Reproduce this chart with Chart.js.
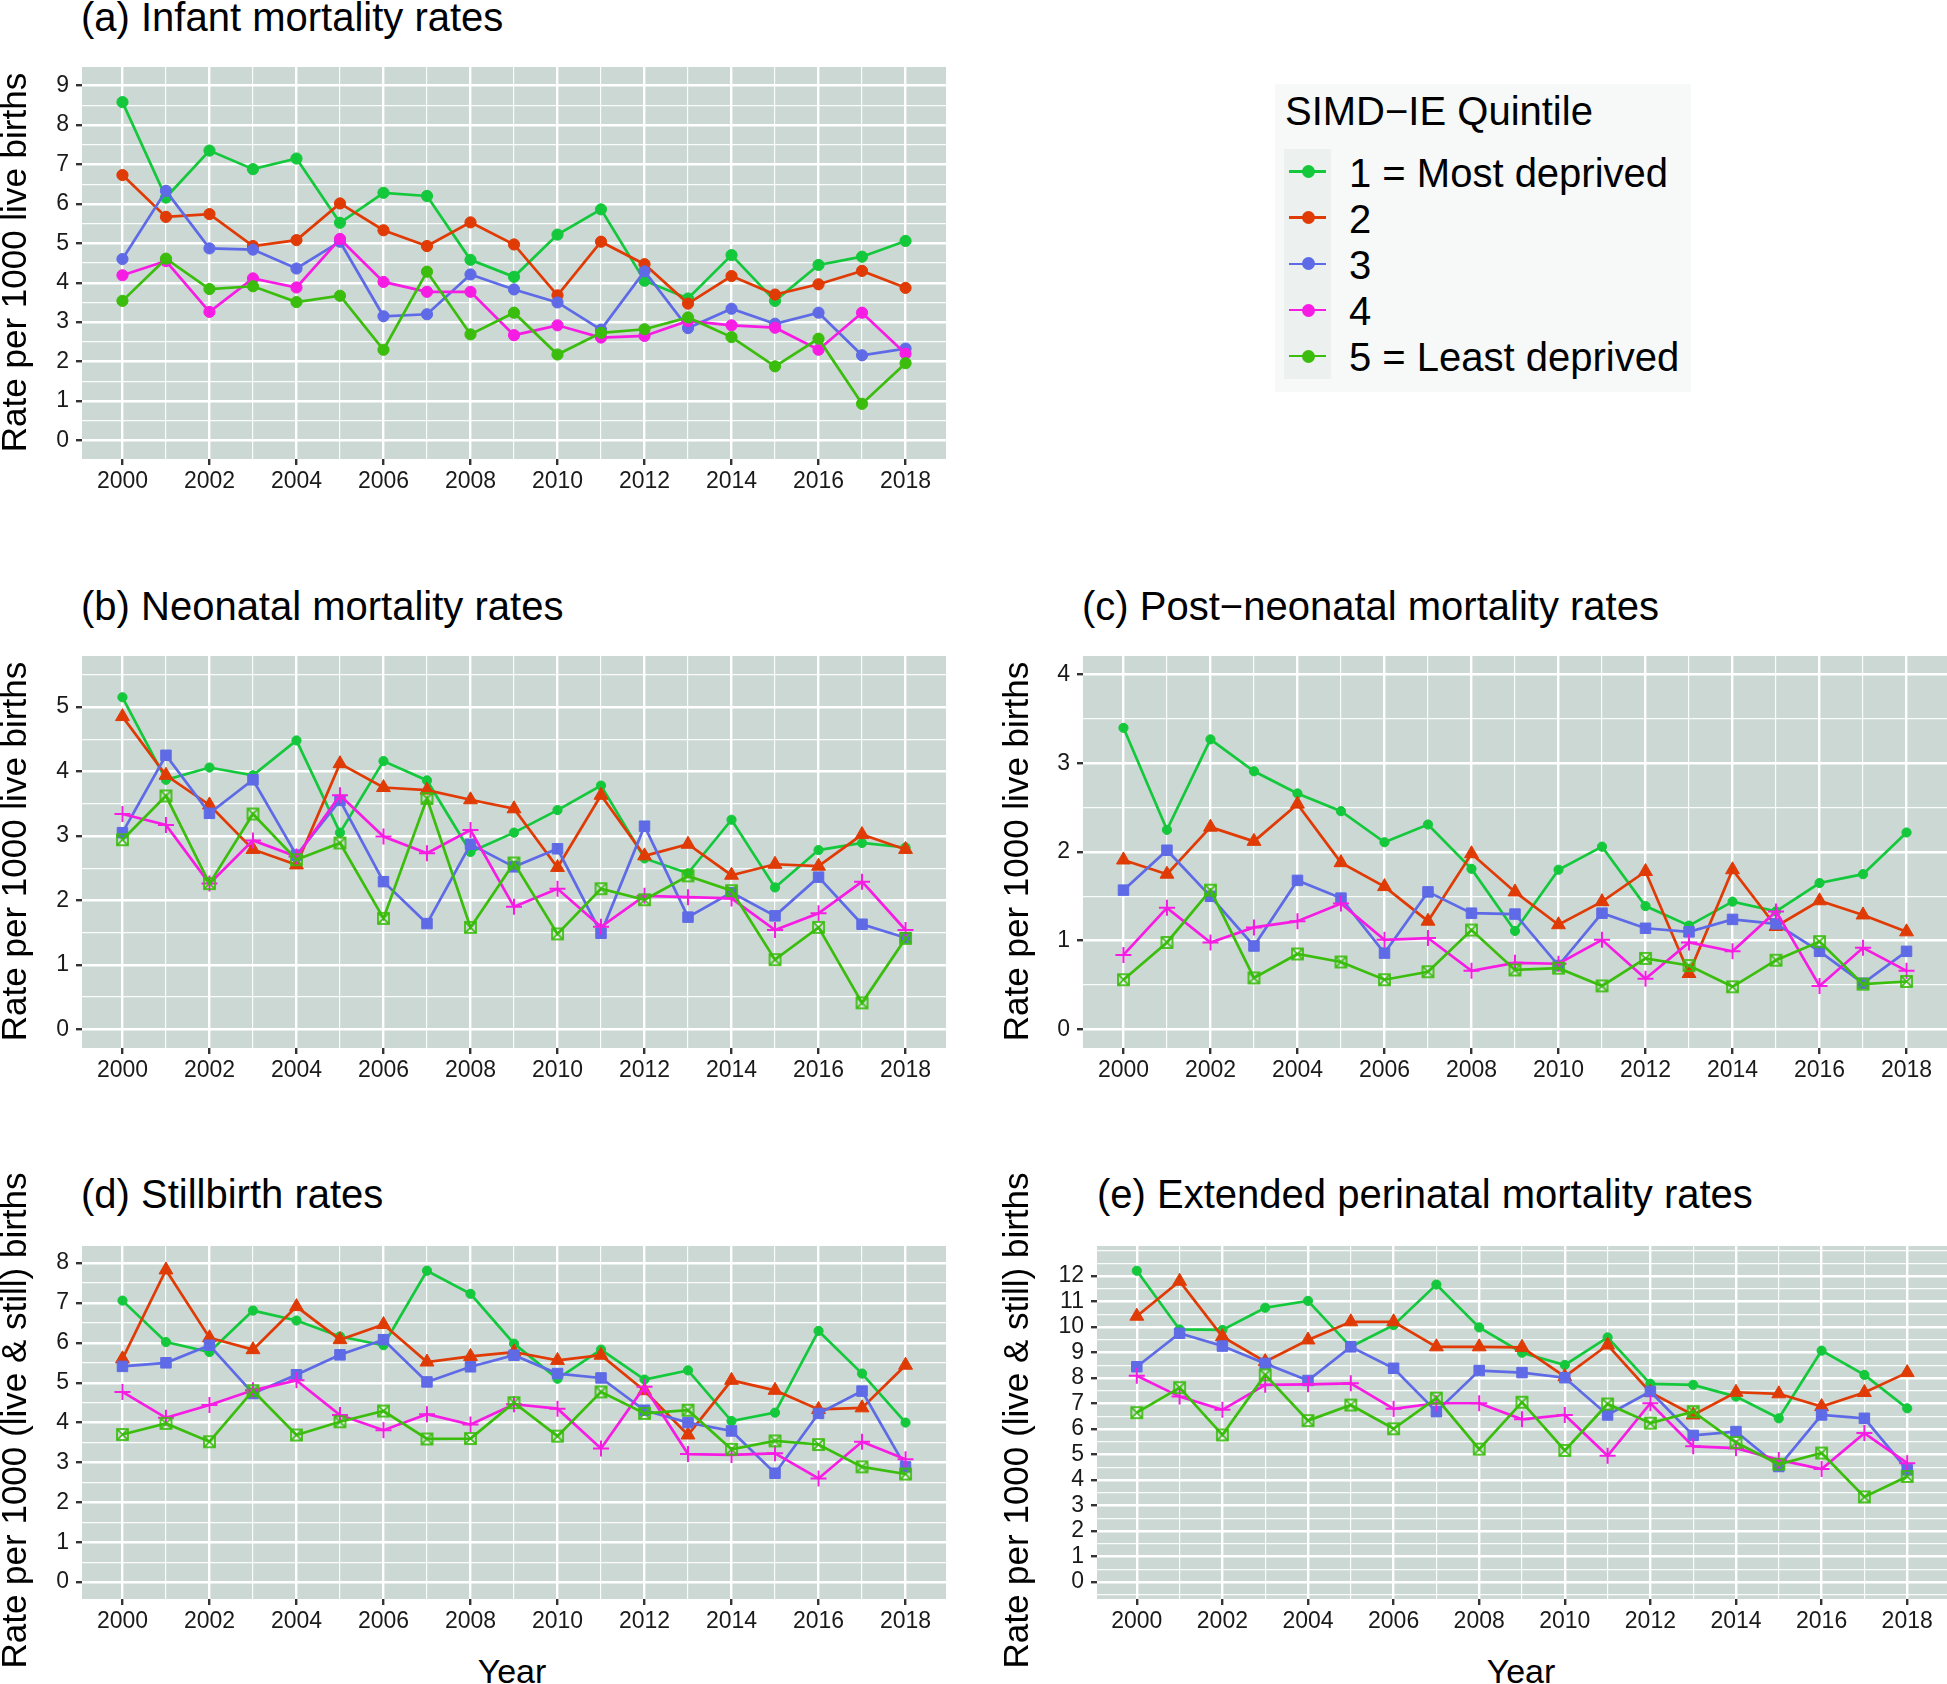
<!DOCTYPE html>
<html><head><meta charset="utf-8">
<script src="https://cdn.jsdelivr.net/npm/chart.js@4.4.1/dist/chart.umd.min.js"></script>
<style>
html,body{margin:0;padding:0;background:#fff;}
body{width:1947px;height:1684px;position:relative;overflow:hidden;font-family:"Liberation Sans",Arial,Helvetica,sans-serif;color:#000;}
canvas{position:absolute;}
.t{position:absolute;white-space:nowrap;color:#000;}
.rot{position:absolute;white-space:nowrap;text-align:center;transform:rotate(-90deg);transform-origin:50% 50%;}
</style></head><body>
<canvas id="pa"></canvas><canvas id="pb"></canvas><canvas id="pc"></canvas><canvas id="pd"></canvas><canvas id="pe"></canvas>
<div id="texts"></div>
<script>
// ---------------- DATA ----------------
const years = [2000,2001,2002,2003,2004,2005,2006,2007,2008,2009,2010,2011,2012,2013,2014,2015,2016,2017,2018];
const xTickYears = [2000,2002,2004,2006,2008,2010,2012,2014,2016,2018];
const quintileLabels = ['1 = Most deprived','2','3','4','5 = Least deprived'];

// (a) Infant mortality rates
const infantQ1 = [8.58,6.16,7.35,6.88,7.15,5.52,6.28,6.20,4.58,4.15,5.22,5.86,4.05,3.60,4.70,3.54,4.45,4.66,5.06];
const infantQ2 = [6.73,5.67,5.74,4.93,5.08,6.01,5.33,4.93,5.53,4.97,3.68,5.04,4.47,3.47,4.17,3.70,3.96,4.30,3.87];
const infantQ3 = [4.60,6.33,4.87,4.84,4.36,5.04,3.15,3.20,4.21,3.83,3.50,2.81,4.29,2.85,3.34,2.96,3.24,2.16,2.33];
const infantQ4 = [4.19,4.55,3.26,4.11,3.88,5.11,4.02,3.77,3.77,2.67,2.92,2.61,2.65,3.03,2.92,2.86,2.30,3.24,2.20];
const infantQ5 = [3.54,4.61,3.84,3.91,3.51,3.67,2.30,4.28,2.69,3.24,2.18,2.73,2.82,3.12,2.62,1.88,2.58,0.93,1.96];

// (b) Neonatal mortality rates
const neonatalQ1 = [5.15,3.87,4.06,3.94,4.48,3.05,4.16,3.86,2.75,3.05,3.40,3.78,2.65,2.42,3.25,2.20,2.78,2.89,2.82];
const neonatalQ2 = [4.85,3.94,3.48,2.79,2.55,4.12,3.75,3.71,3.56,3.42,2.51,3.63,2.69,2.87,2.39,2.56,2.53,3.02,2.79];
const neonatalQ3 = [3.05,4.25,3.35,3.87,2.70,3.55,2.29,1.64,2.87,2.52,2.80,1.49,3.15,1.74,2.12,1.76,2.36,1.63,1.42];
const neonatalQ4 = [3.34,3.17,2.26,2.93,2.68,3.63,2.99,2.73,3.09,1.90,2.18,1.59,2.07,2.05,2.03,1.54,1.80,2.29,1.54];
const neonatalQ5 = [2.94,3.62,2.26,3.34,2.63,2.89,1.72,3.58,1.58,2.58,1.48,2.18,2.01,2.38,2.15,1.08,1.58,0.41,1.41];

// (c) Post-neonatal mortality rates
const postneonatalQ1 = [3.40,2.25,3.27,2.91,2.66,2.46,2.11,2.31,1.81,1.11,1.80,2.06,1.39,1.17,1.44,1.33,1.65,1.75,2.22];
const postneonatalQ2 = [1.91,1.75,2.28,2.12,2.54,1.88,1.61,1.22,1.98,1.55,1.18,1.44,1.78,0.63,1.80,1.16,1.45,1.29,1.10];
const postneonatalQ3 = [1.57,2.02,1.50,0.94,1.68,1.48,0.86,1.55,1.31,1.30,0.72,1.31,1.14,1.10,1.24,1.19,0.88,0.52,0.88];
const postneonatalQ4 = [0.84,1.37,0.98,1.15,1.22,1.42,1.01,1.03,0.66,0.75,0.74,1.01,0.57,0.98,0.88,1.33,0.49,0.92,0.66];
const postneonatalQ5 = [0.56,0.98,1.57,0.58,0.85,0.76,0.56,0.65,1.12,0.67,0.69,0.49,0.80,0.72,0.48,0.78,0.99,0.51,0.54];

// (d) Stillbirth rates
const stillbirthQ1 = [7.06,6.02,5.77,6.81,6.56,6.16,5.94,7.81,7.23,5.98,5.10,5.83,5.08,5.31,4.04,4.25,6.30,5.23,4.00];
const stillbirthQ2 = [5.60,7.83,6.13,5.83,6.91,6.08,6.46,5.52,5.66,5.77,5.56,5.69,4.80,3.69,5.06,4.81,4.33,4.37,5.44];
const stillbirthQ3 = [5.41,5.50,5.94,4.73,5.20,5.70,6.08,5.02,5.40,5.69,5.23,5.12,4.31,4.00,3.79,2.73,4.23,4.79,2.89];
const stillbirthQ4 = [4.77,4.12,4.44,4.81,5.06,4.19,3.81,4.21,3.95,4.46,4.35,3.35,4.90,3.21,3.19,3.23,2.60,3.52,3.08];
const stillbirthQ5 = [3.70,3.98,3.52,4.80,3.69,4.02,4.29,3.59,3.60,4.50,3.66,4.77,4.23,4.31,3.33,3.54,3.45,2.89,2.71];

// (e) Extended perinatal mortality rates
const perinatalQ1 = [12.20,9.90,9.88,10.75,11.02,9.22,10.07,11.66,9.98,8.99,8.51,9.59,7.77,7.73,7.27,6.42,9.07,8.12,6.81];
const perinatalQ2 = [10.42,11.79,9.62,8.64,9.49,10.20,10.20,9.22,9.22,9.20,8.05,9.29,7.43,6.55,7.44,7.38,6.88,7.43,8.21];
const perinatalQ3 = [8.44,9.75,9.25,8.57,7.90,9.22,8.38,6.68,8.29,8.21,8.01,6.55,7.47,5.75,5.90,4.53,6.55,6.42,4.40];
const perinatalQ4 = [8.09,7.27,6.75,7.73,7.75,7.79,6.79,7.01,7.01,6.38,6.55,4.95,7.01,5.32,5.25,4.79,4.43,5.84,4.66];
const perinatalQ5 = [6.64,7.62,5.77,8.12,6.33,6.94,6.01,7.21,5.21,7.05,5.16,6.98,6.23,6.68,5.47,4.62,5.06,3.34,4.14];

// y tick labels
const infantYTicks = [0,1,2,3,4,5,6,7,8,9];
const neonatalYTicks = [0,1,2,3,4,5];
const postneonatalYTicks = [0,1,2,3,4];
const stillbirthYTicks = [0,1,2,3,4,5,6,7,8];
const perinatalYTicks = [0,1,2,3,4,5,6,7,8,9,10,11,12];

// ---------------- STYLE ----------------
const FONT = '"Liberation Sans", Arial, Helvetica, sans-serif';
const COLORS = ['#14C83C','#E03A05','#5E6AE6','#F71CE3','#3ABD0C'];
const PANEL_BG = '#CBD8D4';
Chart.defaults.font.family = FONT;

function boxedX(color){
  const c = document.createElement('canvas');
  c.width = 15; c.height = 15;
  const g = c.getContext('2d');
  g.strokeStyle = color; g.lineWidth = 1.7;
  g.strokeRect(2, 2, 11, 11);
  g.beginPath(); g.moveTo(2,2); g.lineTo(13,13); g.moveTo(13,2); g.lineTo(2,13); g.stroke();
  return c;
}
const MARK_A = [0,1,2,3,4].map(()=>({style:'circle', r:5.6, bw:1}));
const MARK_B = [
  {style:'circle', r:4.6, bw:1},
  {style:'triangle', r:8, bw:1},
  {style:'rect', r:7.4, bw:1},
  {style:'cross', r:8, bw:2},
  {style:boxedX(COLORS[4]), r:7, bw:1}
];

function tickObjs(majors, step, min, max){
  const out = [];
  majors.forEach(v => out.push({value:v, minor:false}));
  const ext = [majors[0]-step].concat(majors, [majors[majors.length-1]+step]);
  for (let i=0;i<ext.length-1;i++){ out.push({value:(ext[i]+ext[i+1])/2, minor:true}); }
  out.push({value:ext[0], minor:true}); out.push({value:ext[ext.length-1], minor:true});
  return out.filter(o => o.value >= min && o.value <= max).sort((a,b)=>a.value-b.value);
}

const bgPlugin = {id:'bg', beforeDraw(chart){
  const {ctx, chartArea:a} = chart;
  ctx.save(); ctx.fillStyle = PANEL_BG;
  ctx.fillRect(a.left, a.top, a.right-a.left, a.bottom-a.top); ctx.restore();
}};

const XMIN = 1999.07, XMAX = 2018.93;

function makePanel(id, rect, yMin, yMax, yMajors, series, marks){
  const yAxisW = 55, xAxisH = 45;
  const cv = document.getElementById(id);
  cv.width = rect.r - rect.l + yAxisW; cv.height = rect.b - rect.t + xAxisH;
  cv.style.left = (rect.l - yAxisW) + 'px'; cv.style.top = rect.t + 'px';
  const xt = tickObjs(xTickYears, 2, XMIN, XMAX);
  const yt = tickObjs(yMajors, 1, yMin, yMax);
  const datasets = series.map((arr, i) => ({
    label: quintileLabels[i],
    data: years.map((yr, k) => ({x: yr, y: arr[k]})),
    borderColor: COLORS[i], backgroundColor: COLORS[i],
    borderWidth: 2.7, tension: 0, fill: false,
    pointStyle: marks[i].style, pointRadius: marks[i].r, pointHoverRadius: marks[i].r,
    pointBorderWidth: marks[i].bw, pointBackgroundColor: COLORS[i], pointBorderColor: COLORS[i],
    order: 5 - i, clip: 10
  }));
  const gridOpts = {
    color: ctx => ctx.tick && ctx.tick.minor ? 'rgba(255,255,255,0.9)' : '#FFFFFF',
    lineWidth: ctx => ctx.tick && ctx.tick.minor ? 1.2 : 2.4,
    drawTicks: true, tickLength: 6,
    tickColor: ctx => ctx.tick && ctx.tick.minor ? 'rgba(0,0,0,0)' : '#333333',
    tickWidth: 2.4, offset: false
  };
  const labelCb = (v, i, ticks) => (ticks[i] && ticks[i].minor) ? '' : String(v);
  new Chart(cv, {
    type: 'line',
    data: {datasets},
    plugins: [bgPlugin],
    options: {
      responsive: false, animation: false, devicePixelRatio: 1,
      layout: {padding: 0, autoPadding: false},
      plugins: {legend: {display: false}, tooltip: {enabled: false}, title: {display: false}},
      events: [],
      scales: {
        x: {
          type: 'linear', min: XMIN, max: XMAX, bounds: 'data',
          afterBuildTicks: s => { s.ticks = xt.map(o => ({value:o.value, minor:o.minor})); },
          afterFit: s => { s.height = xAxisH; s.paddingLeft = 0; s.paddingRight = 0; },
          ticks: {autoSkip: false, maxRotation: 0, minRotation: 0, padding: 3, color: '#1a1a1a',
                  font: {family: FONT, size: 23}, callback: labelCb},
          grid: gridOpts, border: {display: false}
        },
        y: {
          type: 'linear', min: yMin, max: yMax, bounds: 'data',
          afterBuildTicks: s => { s.ticks = yt.map(o => ({value:o.value, minor:o.minor})); },
          afterFit: s => { s.width = yAxisW; s.paddingTop = 0; s.paddingBottom = 0; },
          ticks: {autoSkip: false, padding: 7, color: '#1a1a1a',
                  font: {family: FONT, size: 23}, callback: labelCb},
          grid: gridOpts, border: {display: false}
        }
      }
    }
  });
}

makePanel('pa', {l:82, t:67, r:946, b:459}, -0.47, 9.47, infantYTicks,
  [infantQ1, infantQ2, infantQ3, infantQ4, infantQ5], MARK_A);
makePanel('pb', {l:82, t:656, r:946, b:1048}, -0.29, 5.79, neonatalYTicks,
  [neonatalQ1, neonatalQ2, neonatalQ3, neonatalQ4, neonatalQ5], MARK_B);
makePanel('pc', {l:1083, t:656, r:1947, b:1048}, -0.21, 4.21, postneonatalYTicks,
  [postneonatalQ1, postneonatalQ2, postneonatalQ3, postneonatalQ4, postneonatalQ5], MARK_B);
makePanel('pd', {l:82, t:1246, r:946, b:1599}, -0.425, 8.43, stillbirthYTicks,
  [stillbirthQ1, stillbirthQ2, stillbirthQ3, stillbirthQ4, stillbirthQ5], MARK_B);
makePanel('pe', {l:1097, t:1246, r:1947, b:1599}, -0.66, 13.17, perinatalYTicks,
  [perinatalQ1, perinatalQ2, perinatalQ3, perinatalQ4, perinatalQ5], MARK_B);

// ---------------- TEXT & LEGEND ----------------
const T = document.getElementById('texts');
function addText(txt, left, top, size){
  const d = document.createElement('div'); d.className = 't';
  d.style.left = left+'px'; d.style.top = top+'px';
  d.style.fontSize = size+'px'; d.style.lineHeight = size+'px';
  d.textContent = txt; T.appendChild(d); return d;
}
function addRot(txt, cx, cy, size){
  const W = 700; const d = document.createElement('div'); d.className = 'rot';
  d.style.width = W+'px'; d.style.height = size+'px';
  d.style.left = (cx - W/2)+'px'; d.style.top = (cy - size/2)+'px';
  d.style.fontSize = size+'px'; d.style.lineHeight = size+'px';
  d.textContent = txt; T.appendChild(d); return d;
}
addText('(a) Infant mortality rates', 81, -3, 40);
addText('(b) Neonatal mortality rates', 81, 586, 40);
addText('(c) Post\u2212neonatal mortality rates', 1082, 586, 40);
addText('(d) Stillbirth rates', 81, 1174, 40);
addText('(e) Extended perinatal mortality rates', 1097, 1174, 40);

addRot('Rate per 1000 live births', 13, 262, 35);
addRot('Rate per 1000 live births', 13, 851, 35);
addRot('Rate per 1000 live births', 1015, 851, 35);
addRot('Rate per 1000 (live & still) births', 13, 1420, 35);
addRot('Rate per 1000 (live & still) births', 1015, 1420, 35);

function addCentered(txt, cx, top, size){
  const d = addText(txt, 0, top, size);
  d.style.left = (cx - 200)+'px'; d.style.width = '400px'; d.style.textAlign = 'center';
}
addCentered('Year', 512, 1654, 34);
addCentered('Year', 1521, 1654, 34);

// legend
function box(l,t,w,h,bg){ const d=document.createElement('div'); d.style.cssText=`position:absolute;left:${l}px;top:${t}px;width:${w}px;height:${h}px;background:${bg};`; T.appendChild(d); return d; }
box(1275, 84, 416, 308, '#F7F9F8');
box(1284, 149, 47, 230, '#ECF1EF');
addText('SIMD\u2212IE Quintile', 1285, 91, 40);
const keyY = [171.7, 217.8, 263.9, 310, 356.1];
quintileLabels.forEach((lab, i) => {
  const ln = box(1289, keyY[i]-1.4, 37, 2.8, COLORS[i]);
  const dot = box(1308-6.5, keyY[i]-6.5, 13, 13, COLORS[i]); dot.style.borderRadius='50%';
  addText(lab, 1349, keyY[i] - 18.9, 40);
});
</script>
</body></html>
